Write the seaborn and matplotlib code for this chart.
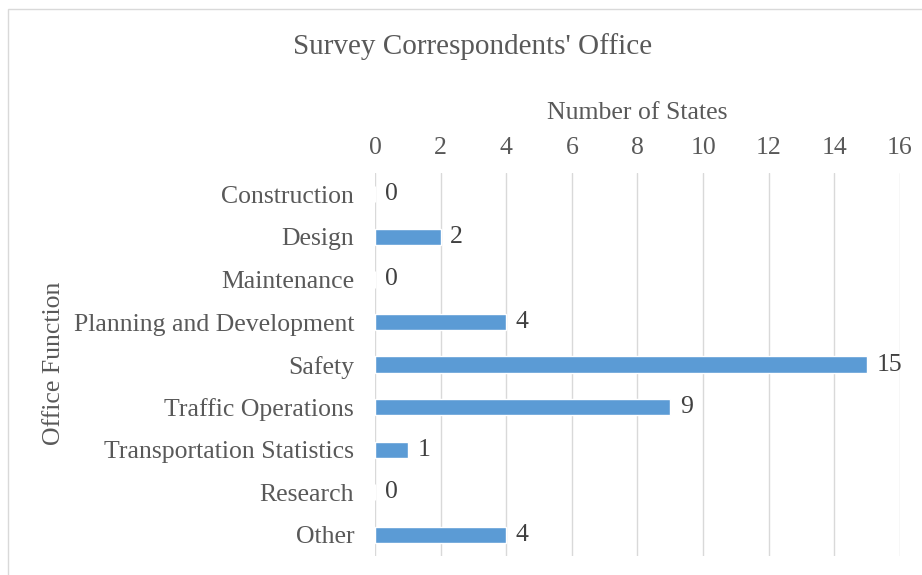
import matplotlib
matplotlib.use("Agg")
import matplotlib.pyplot as plt
import seaborn as sns
import pandas as pd
from matplotlib.patches import Rectangle

# datos
funciones = ["Construction", "Design", "Maintenance", "Planning and Development",
             "Safety", "Traffic Operations", "Transportation Statistics",
             "Research", "Other"]
estados = [0, 2, 0, 4, 15, 9, 1, 0, 4]
ticks_x = [0, 2, 4, 6, 8, 10, 12, 14, 16]

df = pd.DataFrame({"funcion": funciones, "estados": estados})

sns.set_theme(style="white")
plt.rcParams["font.family"] = ["Liberation Serif", "DejaVu Serif"]
gris = "#595959"
tam = 18.5

fig = plt.figure(figsize=(9.22, 5.75), dpi=100)
ax = fig.add_axes([0.4067, 0.033, 0.5694, 0.666])

sns.barplot(data=df, x="estados", y="funcion", color="#5B9BD5",
            width=0.38, saturation=1, ax=ax, zorder=3)

ax.set_xlim(0, 16)
ax.set_xticks(ticks_x)
ax.xaxis.tick_top()
ax.xaxis.set_label_position("top")
ax.grid(axis="x", color="#D9D9D9", linewidth=1, zorder=0)
ax.set_axisbelow(True)
for s in ax.spines.values():
    s.set_visible(False)
ax.tick_params(axis="both", length=0, labelsize=tam, labelcolor=gris)
ax.tick_params(axis="x", pad=10)
ax.tick_params(axis="y", pad=15)

ax.set_xlabel("Number of States", fontsize=tam, color=gris, labelpad=13)
ax.set_ylabel("")

# etiquetas de valor
for i, v in enumerate(estados):
    ax.annotate(str(v), (v, i), xytext=(7, 0), textcoords="offset points",
                va="center", ha="left", fontsize=tam, color="#404040")

fig.text(0.512, 1 - 47 / 575, "Survey Correspondents' Office", ha="center",
         va="center", fontsize=21, color=gris)
fig.text(54 / 922, 1 - 363 / 575, "Office Function", rotation=90, ha="center",
         va="center", fontsize=tam, color=gris)

# borde del área del gráfico
fig.patches.append(Rectangle((0.009, -0.1), 1.2, 1.1 - 9 / 575,
                             transform=fig.transFigure, fill=False,
                             edgecolor="#D9D9D9", linewidth=1))

plt.savefig("out.png", dpi=100)
plt.close()
